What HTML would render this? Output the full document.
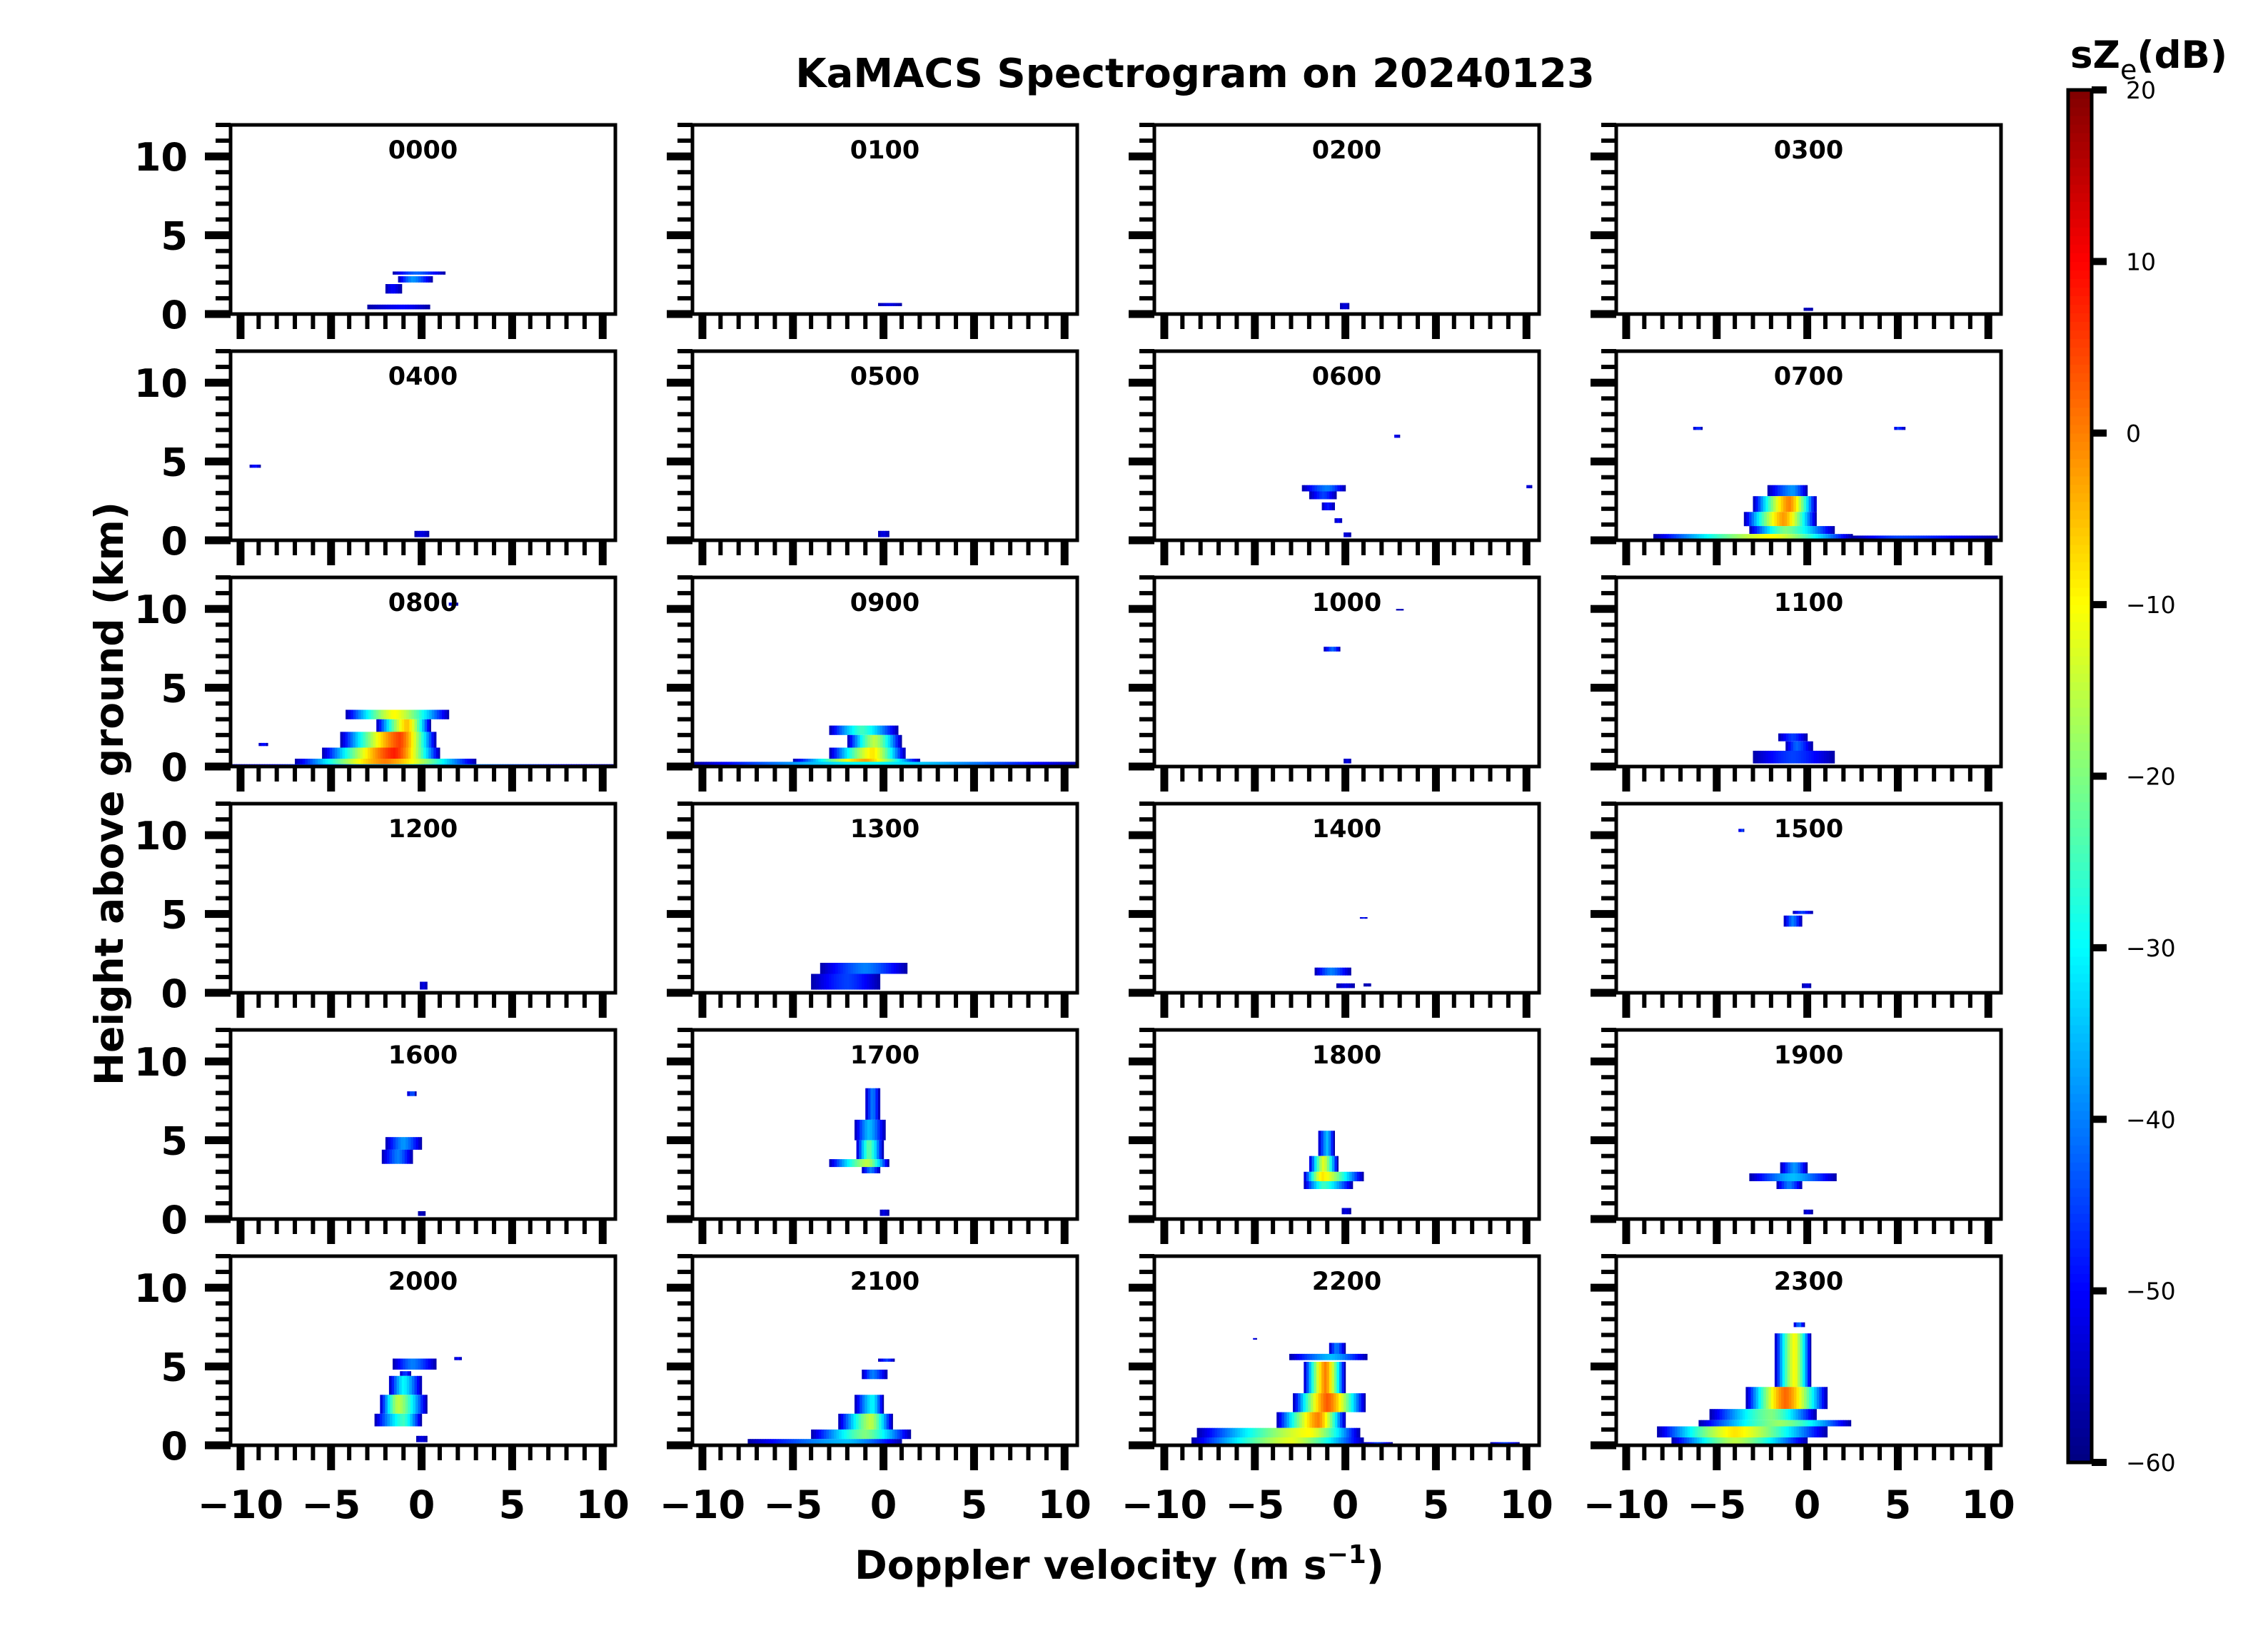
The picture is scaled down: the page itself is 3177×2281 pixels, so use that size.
<!DOCTYPE html>
<html>
<head>
<meta charset="utf-8">
<style>
html,body{margin:0;padding:0;background:#fff;}
svg{display:block;}
text{font-family:"DejaVu Sans","Liberation Sans",sans-serif;}
</style>
</head>
<body>
<svg id="chart" xmlns="http://www.w3.org/2000/svg" width="3177" height="2281" viewBox="0 0 3177 2281">
<rect x="0" y="0" width="3177" height="2281" fill="#fff"/>
<text x="1674" y="122" font-size="56" font-weight="bold" text-anchor="middle">KaMACS Spectrogram on 20240123</text>
<text transform="translate(172,1112) rotate(-90)" font-size="55" font-weight="bold" text-anchor="middle">Height above ground (km)</text>
<text x="1568" y="2212" font-size="55" font-weight="bold" text-anchor="middle">Doppler velocity (m s<tspan font-size="36" dy="-22">−1</tspan><tspan dy="22">)</tspan></text>
<text x="2900" y="95" font-size="53" font-weight="bold">sZ<tspan font-size="38" font-weight="normal" dy="16">e</tspan><tspan dy="-16">(dB)</tspan></text>
<g id="panels"></g>
<g id="cbar"></g>
</svg>
<script>
// ---- data ----
const panelTimes = ["0000","0100","0200","0300","0400","0500","0600","0700","0800","0900","1000","1100","1200","1300","1400","1500","1600","1700","1800","1900","2000","2100","2200","2300"];
const xTicks = [-10,-5,0,5,10];
const yTicks = [0,5,10];
const cbarTicks = [20,10,0,-10,-20,-30,-40,-50,-60];
// each echo strip: [heightBottomKm, heightTopKm, velLeft, velRight, velPeak, peakDb]
const echo0000 = [[0.3,0.6,-3.0,0.45,-1.0,-50],[1.3,1.9,-2.0,-1.1,-1.6,-50],[2.0,2.4,-1.3,0.6,-0.5,-38],[2.5,2.7,-1.6,1.3,-0.3,-42]];
const echo0100 = [[0.5,0.7,-0.3,1.0,0.3,-52]];
const echo0200 = [[0.3,0.7,-0.3,0.2,0.0,-52]];
const echo0300 = [[0.2,0.4,-0.2,0.3,0.0,-55]];
const echo0400 = [[4.6,4.8,-9.5,-8.9,-9.2,-48],[0.2,0.6,-0.4,0.4,0.0,-52]];
const echo0500 = [[0.2,0.6,-0.3,0.3,0.0,-52]];
const echo0600 = [[3.1,3.5,-2.4,0.0,-1.0,-40],[2.6,3.1,-2.0,-0.5,-1.2,-45],[1.9,2.4,-1.3,-0.6,-1.0,-48],[1.1,1.4,-0.6,-0.2,-0.4,-50],[0.2,0.5,-0.1,0.3,0.0,-52],[6.5,6.7,2.7,3.0,2.8,-50],[3.3,3.5,10.0,10.3,10.1,-52]];
const echo0700 = [[2.8,3.5,-2.2,0.0,-0.8,-38],[1.8,2.8,-3.0,0.5,-1.0,0],[0.9,1.8,-3.5,0.5,-1.3,-2],[0.4,0.9,-3.2,1.5,-1.2,-20],[0.1,0.4,-8.5,2.5,-2.0,-10],[0.1,0.3,2.5,10.5,5.0,-45],[7.0,7.2,-6.3,-5.8,-6.0,-45],[7.0,7.2,4.8,5.4,5.0,-45]];
const echo0800 = [[3.0,3.6,-4.2,1.5,-1.5,-10],[2.2,3.0,-2.5,0.5,-0.8,-5],[1.2,2.2,-4.5,0.8,-1.2,5],[0.5,1.2,-5.5,1.0,-1.5,8],[0.1,0.5,-7.0,3.0,-2.0,0],[0.0,0.15,-10.5,10.7,-1.0,-35],[10.2,10.4,1.5,2.0,1.8,-45],[1.3,1.5,-9.0,-8.5,-8.7,-48]];
const echo0900 = [[2.0,2.6,-3.0,0.8,-1.2,-25],[1.2,2.0,-2.0,1.0,-0.5,-15],[0.5,1.2,-3.0,1.2,-0.6,-8],[0.1,0.5,-5.0,2.0,-1.0,-3],[0.05,0.3,-10.5,10.7,-1.0,-30]];
const echo1000 = [[7.3,7.6,-1.2,-0.3,-0.7,-42],[0.2,0.5,-0.1,0.3,0.1,-52],[9.9,10.0,2.8,3.2,3.0,-55]];
const echo1100 = [[1.6,2.1,-1.6,0.0,-0.8,-45],[1.0,1.6,-1.2,0.3,-0.6,-42],[0.2,1.0,-3.0,1.5,-0.8,-45]];
const echo1200 = [[0.2,0.7,-0.1,0.3,0.1,-52]];
const echo1300 = [[1.2,1.9,-3.5,1.3,-1.0,-40],[0.2,1.2,-4.0,-0.2,-2.0,-45]];
const echo1400 = [[1.1,1.6,-1.7,0.3,-0.8,-40],[0.3,0.6,-0.5,0.5,0.0,-52],[4.7,4.8,0.8,1.2,1.0,-48],[0.4,0.6,1.0,1.4,1.2,-55]];
const echo1500 = [[4.2,4.9,-1.3,-0.3,-0.8,-40],[5.0,5.2,-0.8,0.3,-0.3,-45],[0.3,0.6,-0.3,0.2,0.0,-52],[10.2,10.4,-3.8,-3.5,-3.6,-45]];
const echo1600 = [[4.4,5.2,-2.0,0.0,-1.0,-38],[3.5,4.4,-2.2,-0.5,-1.3,-40],[7.8,8.1,-0.8,-0.3,-0.5,-42],[0.2,0.5,-0.2,0.2,0.0,-55]];
const echo1700 = [[6.3,8.3,-1.0,-0.2,-0.6,-40],[5.0,6.3,-1.6,0.1,-0.8,-35],[3.8,5.0,-1.5,0.0,-0.8,-22],[3.3,3.8,-3.0,0.3,-0.9,-15],[2.9,3.3,-1.2,-0.2,-0.7,-40],[0.2,0.6,-0.2,0.3,0.0,-52]];
const echo1800 = [[4.0,5.6,-1.5,-0.6,-1.0,-35],[3.0,4.0,-2.0,-0.4,-1.2,-12],[2.4,3.0,-2.3,1.0,-1.3,-8],[1.9,2.4,-2.3,0.4,-1.2,-25],[0.3,0.7,-0.2,0.3,0.0,-52]];
const echo1900 = [[2.9,3.6,-1.5,0.0,-0.7,-38],[2.4,2.9,-3.2,1.6,-0.8,-35],[1.9,2.4,-1.7,-0.3,-1.0,-40],[0.3,0.6,-0.2,0.3,0.0,-52]];
const echo2000 = [[4.8,5.5,-1.6,0.8,-0.5,-40],[4.4,4.7,-1.2,-0.6,-0.9,-45],[3.2,4.4,-1.8,0.0,-1.0,-30],[2.0,3.2,-2.3,0.3,-1.3,-15],[1.2,2.0,-2.6,0.0,-1.0,-25],[5.4,5.6,1.8,2.2,2.0,-50],[0.2,0.6,-0.3,0.3,0.0,-52]];
const echo2100 = [[4.2,4.8,-1.2,0.2,-0.6,-40],[5.3,5.5,-0.3,0.6,0.2,-45],[2.0,3.2,-1.6,0.0,-0.6,-30],[1.0,2.0,-2.5,0.5,-0.7,-15],[0.4,1.0,-4.0,1.5,-1.0,-20],[0.1,0.4,-7.5,1.0,-2.0,-35]];
const echo2200 = [[5.8,6.5,-0.9,0.0,-0.5,-40],[5.4,5.8,-3.1,1.2,-0.8,-35],[3.3,5.3,-2.3,0.0,-1.1,0],[2.1,3.3,-2.9,1.1,-1.0,3],[1.1,2.1,-3.8,0.0,-1.5,0],[0.5,1.1,-8.2,0.8,-2.0,-10],[0.1,0.5,-8.5,1.0,-3.0,-12],[0.0,0.2,1.0,2.6,1.8,-45],[0.0,0.2,8.0,9.6,8.8,-45],[6.7,6.8,-5.1,-4.9,-5.0,-50]];
const echo2300 = [[7.5,7.8,-0.75,-0.15,-0.45,-40],[3.7,7.1,-1.8,0.2,-0.7,-10],[2.3,3.7,-3.4,1.1,-1.2,2],[1.6,2.3,-5.4,0.5,-2.0,-20],[1.2,1.6,-6.0,2.4,-1.5,-18],[0.5,1.2,-8.3,1.1,-4.0,-8],[0.1,0.5,-7.5,0.0,-4.0,-15]];
const echoes = [echo0000,echo0100,echo0200,echo0300,echo0400,echo0500,echo0600,echo0700,echo0800,echo0900,echo1000,echo1100,echo1200,echo1300,echo1400,echo1500,echo1600,echo1700,echo1800,echo1900,echo2000,echo2100,echo2200,echo2300];

// ---- layout ----
const NS = "http://www.w3.org/2000/svg";
const colLeft = [323,970,1617,2264];
const rowTop0 = 175, rowPitch = 317, PW = 539, PH = 265;
const XMIN = -10.55, XMAX = 10.7, YMIN = 0, YMAX = 12;
const DBMIN = -60, DBMAX = 20;

function jet(t){
  t = Math.max(0, Math.min(1, t));
  const r = Math.max(0, Math.min(1, 1.5 - Math.abs(4*t - 3)));
  const g = Math.max(0, Math.min(1, 1.5 - Math.abs(4*t - 2)));
  const b = Math.max(0, Math.min(1, 1.5 - Math.abs(4*t - 1)));
  return "rgb(" + Math.round(r*255) + "," + Math.round(g*255) + "," + Math.round(b*255) + ")";
}
function dbColor(db){ return jet((db - DBMIN)/(DBMAX - DBMIN)); }
function mk(tag, attrs, parent){
  const e = document.createElementNS(NS, tag);
  for (const k in attrs) e.setAttribute(k, attrs[k]);
  parent.appendChild(e);
  return e;
}

const panelsG = document.getElementById("panels");
panelTimes.forEach((tm, i) => {
  const col = i % 4, row = Math.floor(i / 4);
  const L = colLeft[col], T = Math.round(rowTop0 + row*rowPitch), B = T + PH, R = L + PW;
  const xs = v => L + (v - XMIN)/(XMAX - XMIN)*PW;
  const ys = h => B - (h - YMIN)/(YMAX - YMIN)*PH;
  const g = mk("g", {}, panelsG);
  
  

  const cells = mk("g", {}, g);
  
  
  echoes[i].forEach(s => {
    const [h0, h1, vL, vR, vP, pk] = s;
    const y0 = ys(h1), y1 = ys(h0);
    const step = 0.14;
    for (let v = vL; v < vR; v += step) {
      const vc = v + step/2;
      const half = vc < vP ? (vP - vL) : (vR - vP);
      const d = half > 0 ? Math.min(1, Math.abs(vc - vP)/half) : 0;
      const db = pk - (pk + 57) * Math.pow(d, 1.4);
      const x0 = xs(v), x1 = xs(Math.min(v + step, vR));
      const c = mk("rect", {x: x0.toFixed(1), y: y0.toFixed(1), width: (x1 - x0 + 0.6).toFixed(1), height: Math.max(2, y1 - y0).toFixed(1), fill: dbColor(db)}, cells);
      
      
    }
  });

  const fr = mk("rect", {x: L, y: T, width: PW, height: PH, fill: "none", stroke: "#000", "stroke-width": 5}, g);
  
  

  const tt = mk("text", {x: L + PW/2, y: T + 47, "font-size": 35, "font-weight": "bold", "text-anchor": "middle"}, g);
  tt.textContent = tm;
  
  

  for (let v = -10; v <= 10; v++) {
    const major = v % 5 === 0;
    const w = major ? 11 : 6, len = major ? 35 : 21;
    const tk = mk("rect", {x: xs(v) - w/2, y: B, width: w, height: len, fill: "#000"}, g);
    
    
  }
  for (let h = 0; h <= 12; h++) {
    const major = h % 5 === 0;
    const w = major ? 11 : 6, len = major ? 36 : 21;
    const tk = mk("rect", {x: L - len, y: ys(h) - w/2, width: len, height: w, fill: "#000"}, g);
    
    
  }
  if (col === 0) {
    yTicks.forEach(h => {
      const t = mk("text", {x: L - 60, y: ys(h) + 20, "font-size": 54, "font-weight": "bold", "text-anchor": "end"}, g);
      t.textContent = String(h);
      
      
    });
  }
  if (row === 5) {
    xTicks.forEach(v => {
      const t = mk("text", {x: xs(v), y: 2127, "font-size": 54, "font-weight": "bold", "text-anchor": "middle"}, g);
      t.textContent = v < 0 ? "−" + Math.abs(v) : String(v);
      
      
    });
  }
});

const cb = document.getElementById("cbar");


const CBL = 2897, CBR = 2930, CBT = 126, CBB = 2049;
const cbY = db => CBB - (db - DBMIN)/(DBMAX - DBMIN)*(CBB - CBT);
for (let db = DBMIN; db < DBMAX; db += 0.5) {
  const r = mk("rect", {x: CBL, y: cbY(db + 0.5), width: CBR - CBL, height: (cbY(db) - cbY(db + 0.5) + 0.5).toFixed(2), fill: dbColor(db + 0.25)}, cb);
  
  
}
const cbf = mk("rect", {x: CBL, y: CBT, width: CBR - CBL, height: CBB - CBT, fill: "none", stroke: "#000", "stroke-width": 5}, cb);


cbarTicks.forEach(db => {
  const tk = mk("rect", {x: CBR, y: cbY(db) - 5, width: 21, height: 10, fill: "#000"}, cb);
  
  
  const t = mk("text", {x: 2978, y: cbY(db) + 12, "font-size": 33}, cb);
  t.textContent = db < 0 ? "−" + Math.abs(db) : String(db);
  
  
});
</script>
</body>
</html>
